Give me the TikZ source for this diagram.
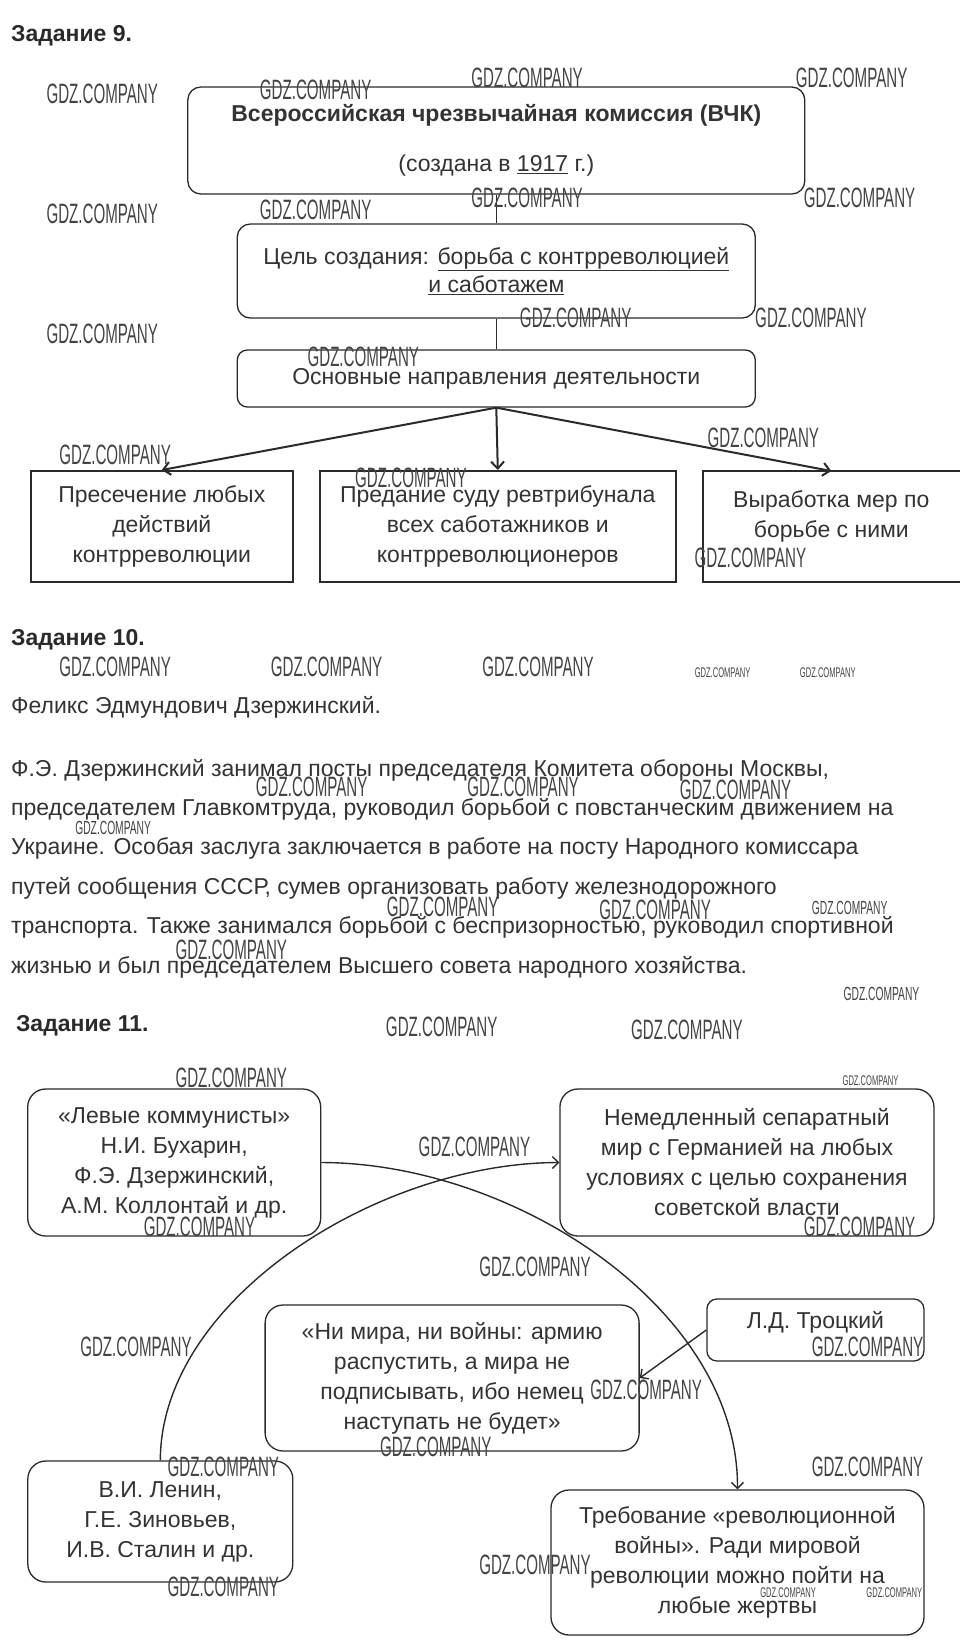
\documentclass[tikz,border=0pt]{standalone}
\usepackage{fontspec}
\setmainfont{Liberation Sans}
\usetikzlibrary{arrows.meta}
\definecolor{ink}{HTML}{333333}
\definecolor{edge}{HTML}{2A2A2A}
\definecolor{wmc}{HTML}{444444}
\begin{document}
\begin{tikzpicture}[x=0.9926pt,y=-1pt,
  txt/.style={font=\fontsize{23}{30}\selectfont, text=ink, inner sep=0pt, align=center},
  head/.style={font=\fontsize{23}{26}\selectfont\bfseries, text=edge, inner sep=0pt, anchor=base west},
  rbox/.style={txt, draw=edge, line width=1.3pt, rounded corners=13pt},
  sbox/.style={txt, draw=edge, line width=2pt},
  frame/.style={draw=edge, line width=2pt},
  link/.style={draw=edge, line width=1.3pt},
  arr/.style={draw=edge, line width=2pt, -{Straight Barb[length=7pt,width=13pt,line width=2pt]}},
  carr/.style={draw=edge, line width=1.4pt, -{Straight Barb[length=6pt,width=12pt,line width=1.4pt]}},
  wmk/.style={text=wmc, inner sep=0pt}
]
\fill[white] (0,0) rectangle (980.2,1650);
\useasboundingbox (0,0) rectangle (980.2,1650);

% ---------- Задание 9
\node[head] (h9) at (11,41) {Задание 9.};
\node[rbox, minimum width=617pt, minimum height=107pt] (vchk) at (500,140.5)
  {\textbf{Всероссийская чрезвычайная комиссия (ВЧК)}\\[20pt](создана в \underline{1917} г.)};
\node[rbox, minimum width=518pt, minimum height=94pt, font=\fontsize{23}{28}\selectfont] (goal) at (500,271)
  {Цель создания: \underline{борьба с контрреволюцией}\\\underline{и саботажем}};
\node[rbox, minimum width=518pt, minimum height=57pt, rounded corners=10pt] (dir) at (500,378.5)
  {Основные направления деятельности};
\draw[link] (vchk.south) -- (goal.north);
\draw[link] (goal.south) -- (dir.north);

\node[sbox, minimum width=262pt, minimum height=111pt] (b1) at (163,526.5)
  {Пресечение любых\\действий\\контрреволюции};
\node[sbox, minimum width=356pt, minimum height=111pt] (b2) at (501.5,526.5)
  {Предание суду ревтрибунала\\всех саботажников и\\контрреволюционеров};
\node[txt] (b3) at (837.5,516) {Выработка мер по\\борьбе с ними};
\coordinate (b3n) at (837.5,471);
\draw[frame] (967,471) -- (708,471) -- (708,582) -- (967,582);
\draw[arr] (dir.south) -- (b1.north);
\draw[arr] (dir.south) -- (b2.north);
\draw[arr] (dir.south) -- (b3n);

% ---------- Задание 10
\node[head] (h10) at (11,645) {Задание 10.};
\node[txt, anchor=base west] (fio) at (11,713) {Феликс Эдмундович Дзержинский.};
\node[txt, anchor=base west, align=left, font=\fontsize{23}{39.4}\selectfont] (para) at (11,973)
  {Ф.Э. Дзержинский занимал посты председателя Комитета обороны Москвы,\\
   председателем Главкомтруда, руководил борьбой с повстанческим движением на\\
   Украине. Особая заслуга заключается в работе на посту Народного комиссара\\
   путей сообщения СССР, сумев организовать работу железнодорожного\\
   транспорта. Также занимался борьбой с беспризорностью, руководил спортивной\\
   жизнью и был председателем Высшего совета народного хозяйства.};

% ---------- Задание 11
\node[head] (h11) at (16,1031) {Задание 11.};
\node[rbox, minimum width=293pt, minimum height=147pt, rounded corners=18pt] (left) at (175.5,1162.5)
  {«Левые коммунисты»\\Н.И. Бухарин,\\Ф.Э. Дзержинский,\\А.М. Коллонтай и др.};
\node[rbox, minimum width=374pt, minimum height=147pt, rounded corners=18pt] (peace) at (752.5,1162.5)
  {Немедленный сепаратный\\мир с Германией на любых\\условиях с целью сохранения\\советской власти};
\node[rbox, minimum width=374pt, minimum height=146pt, rounded corners=18pt] (nm) at (455.5,1378)
  {«Ни мира, ни войны: армию\\распустить, а мира не\\подписывать, ибо немец\\наступать не будет»};
\node[rbox, minimum width=217pt, minimum height=62pt, rounded corners=10pt] (tro) at (821.5,1330)
  {\raisebox{8pt}[\height][\depth]{Л.Д. Троцкий}};
\node[rbox, minimum width=265pt, minimum height=121pt, rounded corners=18pt] (lenin) at (161.5,1521.5)
  {В.И. Ленин,\\Г.Е. Зиновьев,\\И.В. Сталин и др.};
\node[rbox, minimum width=373pt, minimum height=145pt, rounded corners=18pt] (req) at (743,1562.5)
  {Требование «революционной\\войны». Ради мировой\\революции можно пойти на\\любые жертвы};

\draw[carr] (left.east) .. controls (520,1163) and (744,1310) .. (req.north);
\draw[carr] (lenin.north) .. controls (162,1300) and (380,1163) .. (peace.west);
\draw[carr] (tro.west) -- (nm.east);

% ---------- watermarks
\foreach \x/\y/\s [count=\i] in {
 103/94/28, 318/90/28, 531/78/28, 858/78/28,
 103/214/28, 318/210/28, 531/198/28, 866/198/28,
 103/334/28, 580/318/28, 817/318/28, 366/357/28,
 116/455/28, 769/438/28, 414/478/28, 756/558/28,
 116/667/28, 329/667/28, 542/667/28, 728/673/14, 834/673/14,
 314/787/28, 527/787/28, 741/790/28, 114/828/19,
 446/907/28, 660/910/28, 856/908/19, 233/950/28, 888/994/19,
 445/1027/28, 692/1030/28, 233/1078/28, 877/1081/14, 478/1147/28,
 201/1227/28, 866/1227/28, 539/1267/28,
 137/1347/28, 874/1347/28, 651/1390/28, 439/1447/28, 225/1467/28,
 874/1467/28, 539/1565/28, 225/1587/28, 794/1593/14, 901/1593/14}
 {\node[wmk] (wm\i) at (\x,\y) {\scalebox{0.54}[1]{\fontsize{\s}{\s}\selectfont GDZ.COMPANY}};}
\end{tikzpicture}
\end{document}
